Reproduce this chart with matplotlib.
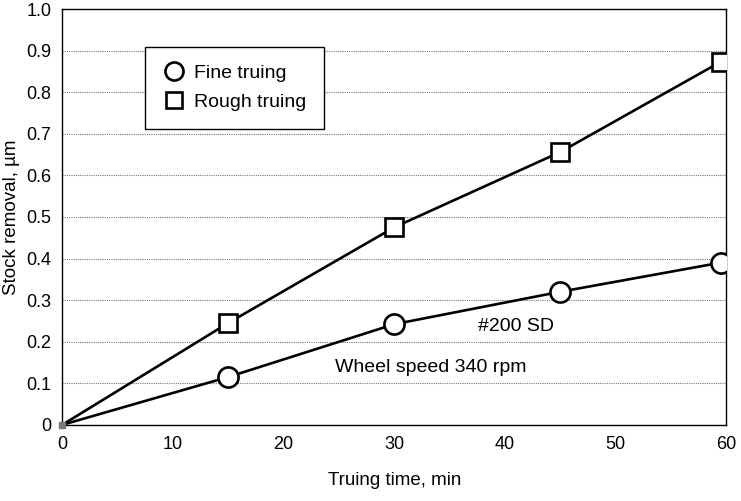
import matplotlib.pyplot as plt
from matplotlib.lines import Line2D

plt.rcParams['font.family'] = ['Liberation Sans', 'DejaVu Sans']

# data
truing_time = [0, 15, 30, 45, 59.5]
fine_removal = [0, 0.115, 0.242, 0.32, 0.39]
rough_removal = [0, 0.245, 0.475, 0.656, 0.873]

fig = plt.figure(figsize=(7.41, 5.01), dpi=100)
ax = fig.add_axes([0.084, 0.152, 0.896, 0.830])

ax.plot(truing_time, fine_removal, color='black', lw=1.9, zorder=3)
ax.plot(truing_time[1:], fine_removal[1:], 'o', ms=14.5, mfc='white',
        mec='black', mew=1.9, ls='none', zorder=4)
ax.plot(truing_time, rough_removal, color='black', lw=1.9, zorder=3)
ax.plot(truing_time[1:], rough_removal[1:], 's', ms=13, mfc='white',
        mec='black', mew=1.9, ls='none', zorder=4)
ax.plot([0], [0], 's', ms=5, color='#777777', zorder=5, clip_on=False)

ax.set_xlim(0, 60)
ax.set_ylim(0, 1.0)
ax.set_xticks([0, 10, 20, 30, 40, 50, 60])
ax.set_yticks([i / 10 for i in range(11)])
ax.set_yticklabels(['0'] + [f'{i / 10:.1f}' for i in range(1, 11)])
ax.tick_params(length=0, labelsize=13, pad=8)
ax.yaxis.grid(True, color='#777777', lw=0.8, ls=(0, (1, 1)))
for s in ax.spines.values():
    s.set_linewidth(1.0)

ax.set_xlabel('Truing time, min', fontsize=13.5, labelpad=14)
ax.set_ylabel('Stock removal, µm', fontsize=13.5, labelpad=4)

ax.text(41, 0.236, '#200 SD', fontsize=14, ha='center', va='center')
ax.text(24.66, 0.137, 'Wheel speed 340 rpm', fontsize=14, ha='left', va='center')

handles = [
    Line2D([], [], marker='o', ms=13, mfc='white', mec='black', mew=1.9, ls='none'),
    Line2D([], [], marker='s', ms=12, mfc='white', mec='black', mew=1.9, ls='none'),
]
leg = ax.legend(handles, ['Fine truing', 'Rough truing'], loc='upper left',
                bbox_to_anchor=(0.125, 0.909), borderaxespad=0, fontsize=14,
                frameon=True, fancybox=False, edgecolor='black', framealpha=1,
                handletextpad=0.4, borderpad=0.9, labelspacing=0.6,
                handlelength=1.2)
leg.get_frame().set_linewidth(1.0)

plt.savefig('out.png', dpi=100)
